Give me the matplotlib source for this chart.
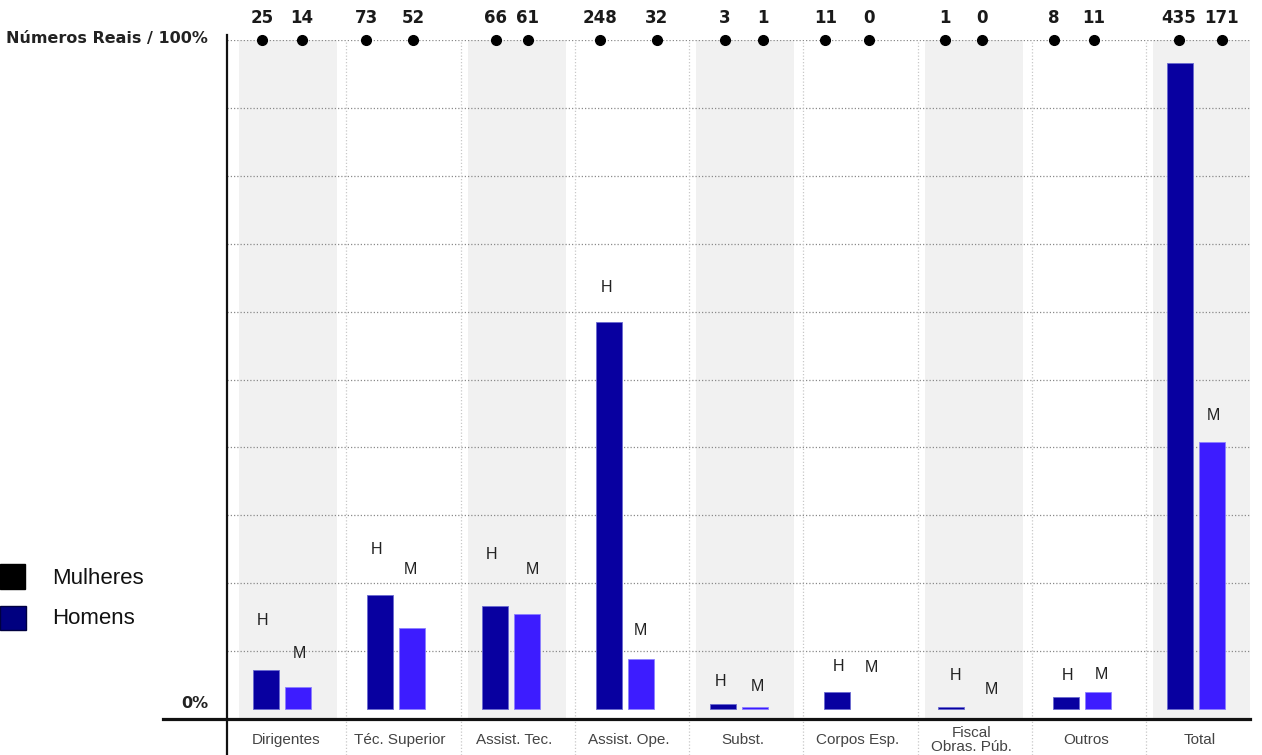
import matplotlib
matplotlib.use("Agg")
import matplotlib.pyplot as plt
from matplotlib.lines import Line2D
from matplotlib.patches import Rectangle
import numpy as np

# data
categorias = ["Dirigentes", "Téc. Superior", "Assist. Tec.", "Assist. Ope.", "Subst.",
              "Corpos Esp.", "Fiscal\nObras. Púb.", "Outros", "Total"]
homens = [25, 73, 66, 248, 3, 11, 1, 8, 435]
mulheres = [14, 52, 61, 32, 1, 0, 0, 11, 171]
escala_max = 435          # value at the "100%" line
corte = 414               # the source stops the tallest bar short of the top line

# layout (pixels)
W, H = 1262, 755
PX = 114.25               # px per category
C0 = 288                  # px x of first category centre
Y0, Y100 = 719, 40        # px y of 0% and 100%
ppu = (Y0 - Y100) / escala_max
base = 10 / ppu           # bars float 10px above the baseline
dot_dx_h = [-26, -36, -21, -31, -20, -34, -29, -34, -23]
dot_dx_m = [14, 11, 11, 26, 18, 10, 9, 6, 20]
lab_dx_h = [-3, -4, -3, -2, -2, 1, 4, 2, 0]
lab_dx_m = [1, -2, 6, 0, 2, 2, 8, 4, 1]
lab_dy_h = [49, 46, 51, 34, 23, 25, 32, 21, None]
lab_dy_m = [34, 58, 44, 29, 21, 42, 19, 17, 27]

COR_H = "#0800a0"
COR_M = "#3d1cff"

fig = plt.figure(figsize=(W / 100, H / 100), dpi=100)
ax = fig.add_axes([227 / W, (H - Y0) / H, (1250 - 227) / W, (Y0 - Y100) / H])
ax.set_xlim((227 - C0) / PX, (1250 - C0) / PX)
ax.set_ylim(0, escala_max)
ax.axis("off")

n = len(categorias)
x = np.arange(n)
bw = 26 / PX
off_h, off_m = -22 / PX, 10 / PX

# grey bands
for i in range(0, n, 2):
    ax.add_patch(Rectangle((i - 49 / PX, 0), 98 / PX, escala_max,
                           facecolor="#f1f1f1", edgecolor="none", zorder=0))

# grid
for k in range(1, 11):
    ax.axhline(escala_max * k / 10, color="#8a8a8a", lw=0.9,
               linestyle=(0, (1, 1.6)), zorder=1)
y_bot = (Y0 - H) / ppu
for i in range(n - 1):
    ax.plot([i + 0.51, i + 0.51], [y_bot, escala_max], color="#c8c8c8", lw=0.9,
            linestyle=(0, (1, 1.6)), zorder=1, clip_on=False)

# bars
alt_h = np.minimum(homens, corte)
alt_m = np.array(mulheres)
ax.bar(x + off_h, alt_h, bw, bottom=base, color=COR_H,
       edgecolor=["#6a6ad0" if v > 0 else "none" for v in alt_h],
       linewidth=0.6, zorder=3)
ax.bar(x + off_m, alt_m, bw, bottom=base, color=COR_M,
       edgecolor=["#8c80ff" if v > 0 else "none" for v in alt_m],
       linewidth=0.6, zorder=3)

# H / M labels
for i in range(n):
    for alt, dx, dy, t, o in ((alt_h[i], lab_dx_h[i], lab_dy_h[i], "H", off_h),
                              (alt_m[i], lab_dx_m[i], lab_dy_m[i], "M", off_m)):
        if dy is None:
            continue
        ax.annotate(t, (i + o, base + alt), xytext=(dx * 0.72, dy * 0.72),
                    textcoords="offset points", ha="center", va="center",
                    fontsize=11.5, color="#222222", family="Liberation Sans",
                    zorder=4)

# dots and numbers along the top
for i in range(n):
    for v, dx in ((homens[i], dot_dx_h[i]), (mulheres[i], dot_dx_m[i])):
        xp = i + dx / PX
        ax.plot(xp, escala_max, "o", color="black", ms=7, zorder=5, clip_on=False)
        ax.text(xp, escala_max + (Y100 - 18) / ppu, str(v),
                ha="center", va="center", fontsize=12, fontweight="bold",
                color="#1a1a1a", zorder=5)

# category labels
for i, c in enumerate(categorias):
    ax.text(i - 2 / PX, -(740 - Y0) / ppu, c, ha="center", va="center",
            fontsize=11, color="#444444", family="Liberation Sans",
            linespacing=0.95)

# axis lines
fig.add_artist(Line2D([163 / W, 1250 / W], [(H - Y0) / H] * 2, color="#111111", lw=2.3))
fig.add_artist(Line2D([227 / W] * 2, [0, (H - 35) / H], color="#111111", lw=1.6))

fig.text(208 / W, 1 - 39 / H, "Números Reais / 100%", ha="right", va="center",
         fontsize=11.5, fontweight="bold", color="#222222")
fig.text(208 / W, 1 - 704 / H, "0%", ha="right", va="center",
         fontsize=11.5, fontweight="bold", color="#222222")

# legend
fig.add_artist(Rectangle((0, 1 - 589 / H), 25 / W, 25 / H, transform=fig.transFigure,
                         facecolor="black", edgecolor="black"))
fig.add_artist(Rectangle((0, 1 - 630 / H), 26 / W, 24 / H, transform=fig.transFigure,
                         facecolor="#000080", edgecolor="#000040"))
fig.text(52 / W, 1 - 578 / H, "Mulheres", ha="left", va="center", fontsize=16,
         family="Liberation Sans", color="#111111")
fig.text(52 / W, 1 - 618 / H, "Homens", ha="left", va="center", fontsize=16,
         family="Liberation Sans", color="#111111")

fig.savefig("out.png", dpi=100)
